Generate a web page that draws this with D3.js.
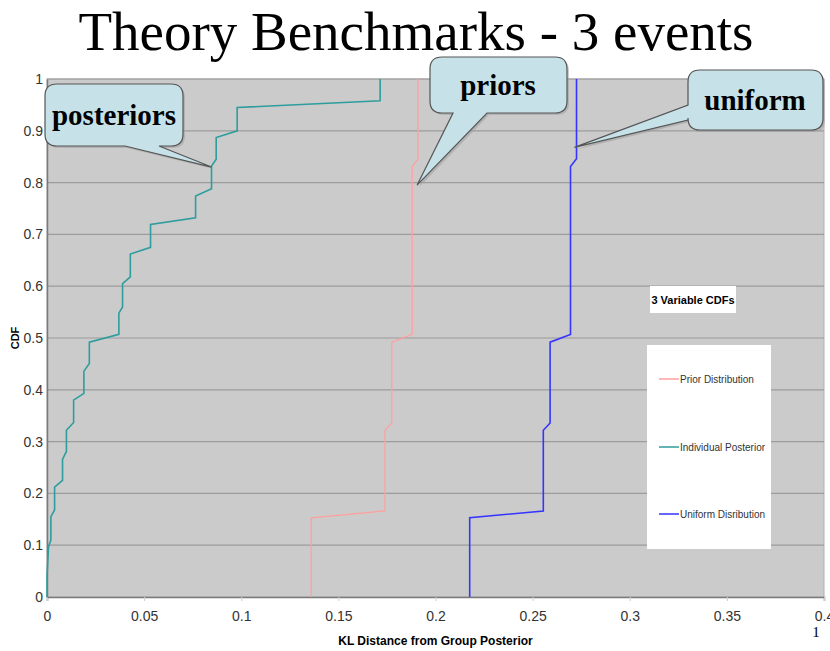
<!DOCTYPE html>
<html lang="en">
<head>
<meta charset="UTF-8">
<title>Theory Benchmarks - 3 events</title>
<style>
  body { margin: 0; background: #fff; }
  .tick text { font-family: "Liberation Sans Narrow", "Arial Narrow", "Liberation Sans", Arial, sans-serif; }
</style>
</head>
<body>
<div id="content"></div>
<script src="https://d3js.org/d3.v7.min.js"></script>
<script>
// step CDF vertices
var posteriorX = [0, 0, 0.0008, 0.002, 0.002, 0.0039, 0.0039, 0.008, 0.008, 0.010, 0.010, 0.0137, 0.0137, 0.019, 0.019, 0.0218, 0.0218,
                  0.037, 0.037, 0.0389, 0.0389, 0.0429, 0.0429, 0.0533, 0.0533, 0.0765, 0.0765, 0.0847, 0.0847, 0.0871, 0.0871, 0.0979, 0.0979, 0.1715, 0.1715];
var posteriorY = [0, 0.04, 0.097, 0.11, 0.155, 0.168, 0.212, 0.225, 0.266, 0.281, 0.322, 0.337, 0.380, 0.393, 0.436, 0.451, 0.492,
                  0.507, 0.548, 0.560, 0.605, 0.618, 0.662, 0.675, 0.719, 0.732, 0.774, 0.788, 0.832, 0.845, 0.887, 0.900, 0.945, 0.958, 1.0];

var priorX = [0.136, 0.136, 0.174, 0.174, 0.1775, 0.1775, 0.188, 0.188, 0.191, 0.191];
var priorY = [0, 0.153, 0.166, 0.322, 0.336, 0.492, 0.507, 0.831, 0.846, 1.0];

var uniformX = [0.2176, 0.2176, 0.2555, 0.2555, 0.259, 0.259, 0.2695, 0.2695, 0.2726, 0.2726];
var uniformY = [0, 0.153, 0.166, 0.322, 0.336, 0.492, 0.507, 0.831, 0.846, 1.0];

var xTicks = [0, 0.05, 0.1, 0.15, 0.2, 0.25, 0.3, 0.35, 0.4];
var xTickLabels = ["0", "0.05", "0.1", "0.15", "0.2", "0.25", "0.3", "0.35", "0.4"];
var yTicks = [0, 0.1, 0.2, 0.3, 0.4, 0.5, 0.6, 0.7, 0.8, 0.9, 1];
var yTickLabels = ["0", "0.1", "0.2", "0.3", "0.4", "0.5", "0.6", "0.7", "0.8", "0.9", "1"];

var seriesNames = ["Prior Distribution", "Individual Posterior", "Uniform Disribution"];
var seriesColors = ["#ffa0a0", "#2f9d9d", "#3535ff"];

var W = 830, H = 651;
var plot = { left: 47, right: 824, top: 79, bottom: 597 };

var svg = d3.select("#content").append("svg")
    .attr("width", W).attr("height", H)
    .style("font-family", "Liberation Sans, Arial, sans-serif");

var x = d3.scaleLinear().domain([0, 0.4]).range([plot.left, plot.right]);
var y = d3.scaleLinear().domain([0, 1]).range([plot.bottom, plot.top]);

// title
svg.append("text")
    .attr("x", 416).attr("y", 50)
    .attr("text-anchor", "middle")
    .style("font-family", "Liberation Serif, Times New Roman, serif")
    .style("font-size", "55px")
    .text("Theory Benchmarks - 3 events");

// plot area
svg.append("rect")
    .attr("x", plot.left).attr("y", plot.top)
    .attr("width", plot.right - plot.left).attr("height", plot.bottom - plot.top)
    .style("fill", "#cbcbcb")
    .style("stroke", "#b0b0b0");

svg.append("g").selectAll("line")
    .data(yTicks.slice(1))
    .enter().append("line")
    .attr("x1", plot.left).attr("x2", plot.right)
    .attr("y1", function (d) { return y(d); })
    .attr("y2", function (d) { return y(d); })
    .style("stroke", "#9c9c9c")
    .style("stroke-width", 1.2);

var xAxis = svg.append("g")
    .attr("transform", "translate(0," + plot.bottom + ")")
    .call(d3.axisBottom(x).tickValues(xTicks).tickSize(4).tickPadding(10)
        .tickFormat(function (d, i) { return xTickLabels[i]; }));
var yAxis = svg.append("g")
    .attr("transform", "translate(" + plot.left + ",0)")
    .call(d3.axisLeft(y).tickValues(yTicks).tickSize(0).tickPadding(4)
        .tickFormat(function (d, i) { return yTickLabels[i]; }));

[xAxis, yAxis].forEach(function (a) {
    a.select(".domain").style("stroke", "#7a7a7a").style("stroke-width", 1.5);
    a.selectAll(".tick line").style("stroke", "#cfcfcf");
    a.selectAll(".tick text").style("font-size", "14px").style("fill", "#333");
});

// axis titles
svg.append("text")
    .attr("x", (plot.left + plot.right) / 2).attr("y", 645)
    .attr("text-anchor", "middle")
    .style("font-family", "Liberation Sans Narrow, Arial Narrow, Arial, sans-serif")
    .style("font-weight", "bold").style("font-size", "12px")
    .text("KL Distance from Group Posterior");

svg.append("text")
    .attr("transform", "translate(19,338) rotate(-90)")
    .attr("text-anchor", "middle")
    .style("font-weight", "bold").style("font-size", "11px")
    .text("CDF");

// series
var line = d3.line()
    .x(function (d) { return x(d[0]); })
    .y(function (d) { return y(d[1]); });

var series = [
    { xs: priorX, ys: priorY, color: seriesColors[0], w: 1.3 },
    { xs: posteriorX, ys: posteriorY, color: seriesColors[1], w: 1.6 },
    { xs: uniformX, ys: uniformY, color: seriesColors[2], w: 1.6 }
];
series.forEach(function (s) {
    svg.append("path")
        .datum(d3.zip(s.xs, s.ys))
        .attr("d", line)
        .style("fill", "none")
        .style("stroke", s.color)
        .style("stroke-width", s.w);
});

// "3 Variable CDFs" label
svg.append("rect").attr("x", 650).attr("y", 286).attr("width", 86).attr("height", 27).style("fill", "#fff");
svg.append("text")
    .attr("x", 693).attr("y", 304)
    .attr("text-anchor", "middle")
    .style("font-family", "Liberation Sans Narrow, Arial Narrow, Arial, sans-serif")
    .style("font-weight", "bold").style("font-size", "11px")
    .text("3 Variable CDFs");

// legend
svg.append("rect").attr("x", 647).attr("y", 345).attr("width", 124).attr("height", 204).style("fill", "#fff");
var legendY = [379, 447, 514];
seriesNames.forEach(function (name, i) {
    var g = svg.append("g").attr("transform", "translate(659," + legendY[i] + ")");
    g.append("line").attr("x1", 0).attr("x2", 20)
        .style("stroke", seriesColors[i]).style("stroke-width", 2).style("opacity", 0.75);
    g.append("text").attr("x", 21).attr("dy", "0.35em")
        .style("font-family", "Liberation Sans Narrow, Arial Narrow, Arial, sans-serif")
        .style("font-size", "10px").style("fill", "#333")
        .text(name);
});

// callouts: rounded box with a pointer on one side
function callout(b, side, p1, p2, tip, label, tx, ty) {
    var r = 12, p = d3.path();
    p.moveTo(b.x0 + r, b.y0);
    p.lineTo(b.x1 - r, b.y0);
    p.quadraticCurveTo(b.x1, b.y0, b.x1, b.y0 + r);
    p.lineTo(b.x1, b.y1 - r);
    p.quadraticCurveTo(b.x1, b.y1, b.x1 - r, b.y1);
    if (side == "bottom") {
        p.lineTo(p2, b.y1); p.lineTo(tip[0], tip[1]); p.lineTo(p1, b.y1);
    }
    p.lineTo(b.x0 + r, b.y1);
    p.quadraticCurveTo(b.x0, b.y1, b.x0, b.y1 - r);
    if (side == "left") {
        p.lineTo(b.x0, p2); p.lineTo(tip[0], tip[1]); p.lineTo(b.x0, p1);
    }
    p.lineTo(b.x0, b.y0 + r);
    p.quadraticCurveTo(b.x0, b.y0, b.x0 + r, b.y0);
    p.closePath();

    svg.append("path").attr("d", p.toString())
        .attr("transform", "translate(2,2)")
        .style("fill", "#9a9a9a").style("opacity", 0.5);
    svg.append("path").attr("d", p.toString())
        .style("fill", "#c6e2e8")
        .style("stroke", "#555").style("stroke-width", 1.2);
    svg.append("text")
        .attr("x", tx).attr("y", ty)
        .attr("text-anchor", "middle")
        .style("font-family", "Liberation Serif, Times New Roman, serif")
        .style("font-weight", "bold").style("font-size", "29px")
        .text(label);
}

callout({ x0: 45, y0: 84, x1: 183, y1: 146 }, "bottom", 125, 159, [x(0.0847), y(0.83)], "posteriors", 114, 125);
callout({ x0: 430, y0: 57, x1: 567, y1: 113 }, "bottom", 453, 487, [x(0.1905), y(0.795)], "priors", 498, 95);
callout({ x0: 688, y0: 70, x1: 823, y1: 130 }, "left", 105, 120, [x(0.2715), y(0.868)], "uniform", 755, 110);

// page number
svg.append("text")
    .attr("x", 816).attr("y", 637)
    .attr("text-anchor", "middle")
    .style("font-family", "Liberation Serif, Times New Roman, serif")
    .style("font-size", "15px")
    .text("1");
</script>
</body>
</html>
